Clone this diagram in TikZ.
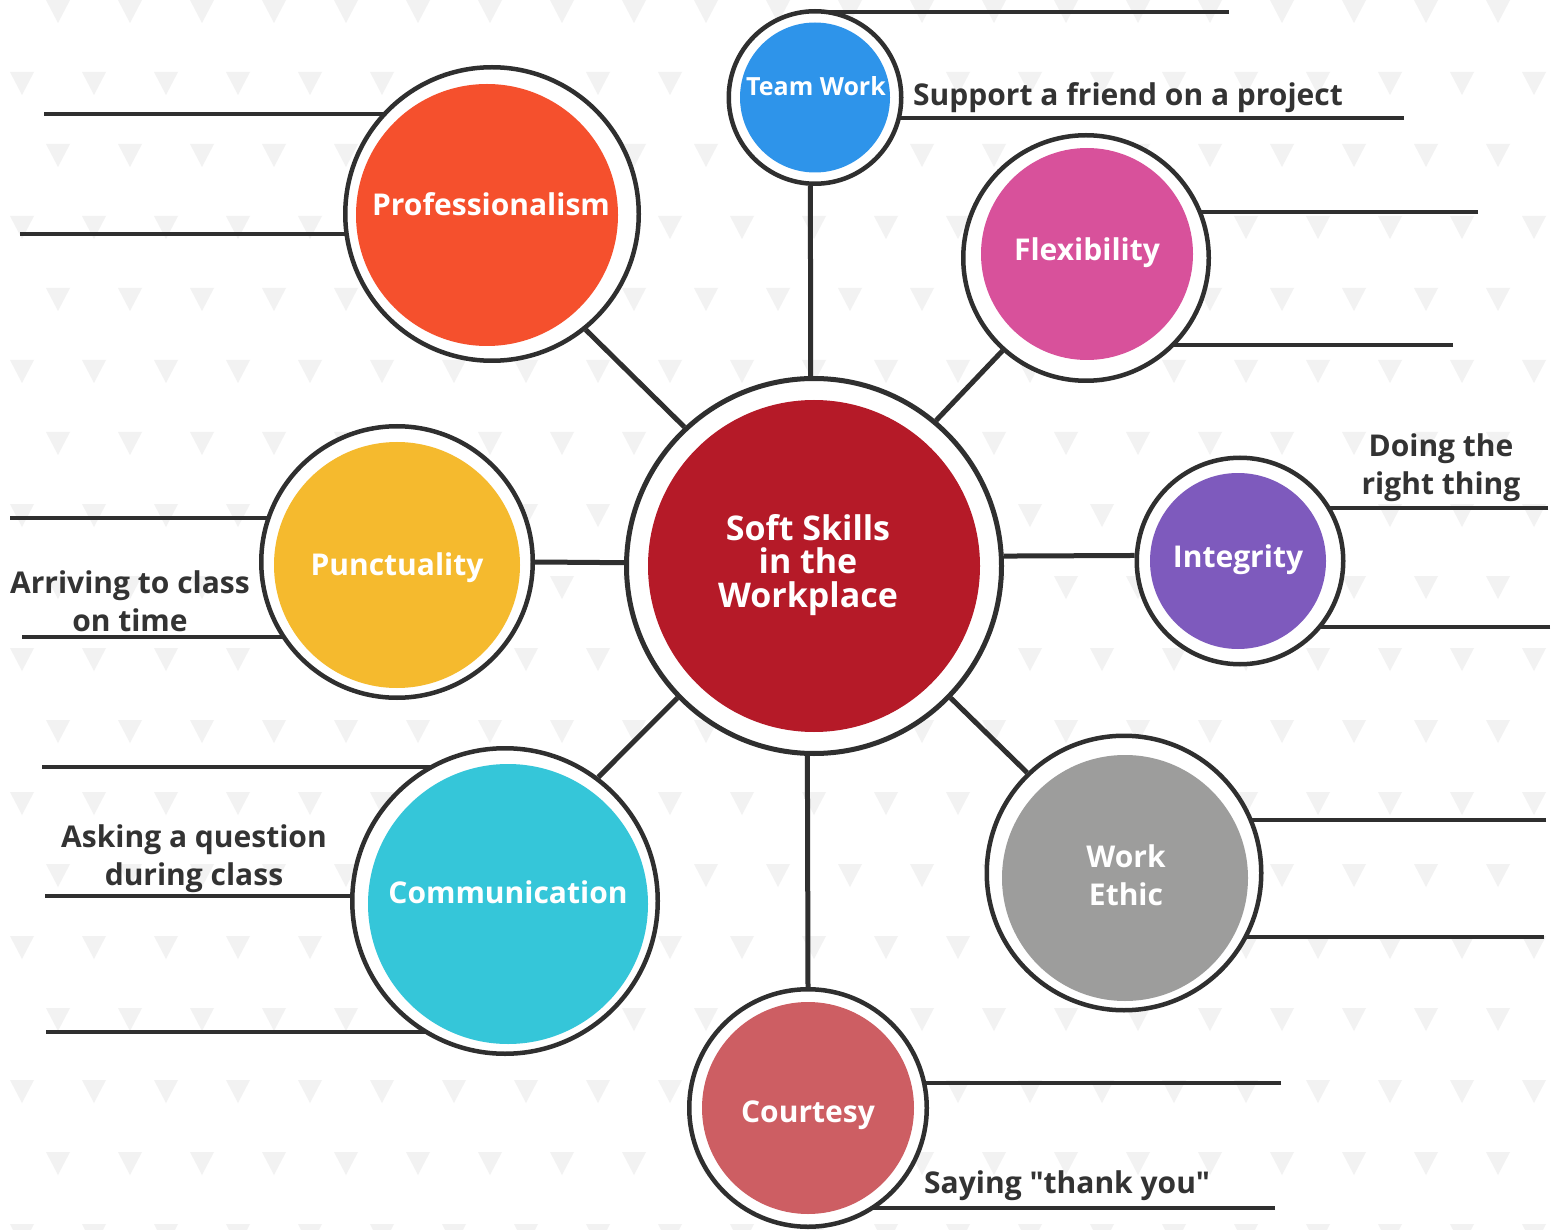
\documentclass[tikz,border=0pt]{standalone}
\usepackage{fontspec}
\setmainfont{Open Sans}
\usetikzlibrary{backgrounds}

% plain font for the straight double quote (no tex-text mapping)
\font\quotefont="Open Sans/B" at 30pt

\definecolor{ink}{HTML}{2F2F2F}
\definecolor{txtc}{HTML}{333333}
\definecolor{tri}{HTML}{F2F2F2}
\definecolor{hubred}{HTML}{B51A28}
\definecolor{twblue}{HTML}{2E94EA}
\definecolor{proforange}{HTML}{F5502D}
\definecolor{flexpink}{HTML}{D8519B}
\definecolor{integpurple}{HTML}{7E5ABD}
\definecolor{ethicgrey}{HTML}{9D9D9C}
\definecolor{courtred}{HTML}{CD5E63}
\definecolor{commcyan}{HTML}{35C6D9}
\definecolor{punctyellow}{HTML}{F5BA2E}

\pgfdeclarelayer{pattern}
\pgfsetlayers{pattern,background,main}

\tikzset{
  ring/.style={circle, draw=ink, line width=4.5pt, fill=white, inner sep=0pt, minimum size=#1pt},
  disc/.style n args={3}{path picture={\fill[#1] ([shift={#3}]path picture bounding box.center) circle (#2pt);}},
  lbl/.style={text=white, font=\bfseries\fontsize{30}{38}\selectfont, inner sep=0pt, align=center},
  note/.style={text=txtc, font=\bfseries\fontsize{30}{37.5}\selectfont, inner sep=0pt, align=center},
  leader/.style={draw=ink, line width=4pt},
  spoke/.style={draw=ink, line width=5pt},
}

\begin{document}
\begin{tikzpicture}[x=1pt, y=-1pt]
  \useasboundingbox (0,0) rectangle (1556,1230);

  % background of small triangles
  \begin{pgfonlayer}{pattern}
    \fill[white] (0,0) rectangle (1556,1230);
    \foreach \r in {0,...,17}{
      \pgfmathsetmacro\off{58-36*mod(\r,2)}
      \foreach \k in {0,...,21}{
        \fill[tri] ({\off+72*\k-12},{72*\r}) -- ++(24,0) -- ++(-12,23) -- cycle;
      }
    }
  \end{pgfonlayer}

  % the circles
  \node[ring=375, line width=5pt, disc={hubred}{166}{(0,0)}] (hub) at (814,566) {};
  \node[ring=172.5, disc={twblue}{75}{(0,0)}] (tw) at (815,97.5) {};
  \node[ring=293.5, disc={proforange}{131}{(-5,1)}] (prof) at (492,214) {};
  \node[ring=245.5, disc={flexpink}{106}{(1,-4)}] (flex) at (1086,258) {};
  \node[ring=206.5, disc={integpurple}{88}{(-2,0)}] (integ) at (1240,561) {};
  \node[ring=271.5, disc={punctyellow}{123}{(0,3)}] (punct) at (397,562) {};
  \node[ring=305.5, disc={commcyan}{140}{(3,3)}] (comm) at (505,901) {};
  \node[ring=274.5, disc={ethicgrey}{123}{(1,5)}] (ethic) at (1124,873) {};
  \node[ring=237.5, disc={courtred}{106}{(0,0)}] (court) at (808,1108) {};

  % texts in the circles (base = last line)
  \node[lbl, anchor=base, font=\bfseries\fontsize{34}{33.5}\selectfont] (hub-txt) at (808,607) {Soft Skills\\in the\\Workplace};
  \node[lbl, anchor=base, font=\bfseries\fontsize{25}{30}\selectfont] (tw-txt) at (816,96) {Team Work};
  \node[lbl, anchor=base] (prof-txt) at (491,216) {Professionalism};
  \node[lbl, anchor=base] (flex-txt) at (1087,261) {Flexibility};
  \node[lbl, anchor=base] (integ-txt) at (1238,567) {Integrity};
  \node[lbl, anchor=base] (punct-txt) at (397,575) {Punctuality};
  \node[lbl, anchor=base] (comm-txt) at (508,903) {Communication};
  \node[lbl, anchor=base] (ethic-txt) at (1126,905) {Work\\Ethic};
  \node[lbl, anchor=base] (court-txt) at (808,1122) {Courtesy};

  % free ends of the leader lines
  \coordinate (twA) at (1229,12);
  \coordinate (twB) at (1404,118);
  \coordinate (profA) at (44,114);
  \coordinate (profB) at (20,234);
  \coordinate (flexA) at (1478,212);
  \coordinate (flexB) at (1453,345);
  \coordinate (integA) at (1548,508);
  \coordinate (integB) at (1550,627);
  \coordinate (punctA) at (10,518);
  \coordinate (punctB) at (22,637);
  \coordinate (commA) at (42,767);
  \coordinate (commB) at (45,896);
  \coordinate (commC) at (46,1032);
  \coordinate (ethicA) at (1546,820);
  \coordinate (ethicB) at (1544,937);
  \coordinate (courtA) at (1281,1083);
  \coordinate (courtB) at (1275,1208);

  \begin{pgfonlayer}{background}
    \draw[leader] (twA) -- (twA -| tw);
    \draw[leader] (twB) -- (twB -| tw);
    \draw[leader] (profA) -- (profA -| prof);
    \draw[leader] (profB) -- (profB -| prof);
    \draw[leader] (flexA) -- (flexA -| flex);
    \draw[leader] (flexB) -- (flexB -| flex);
    \draw[leader] (integA) -- (integA -| integ);
    \draw[leader] (integB) -- (integB -| integ);
    \draw[leader] (punctA) -- (punctA -| punct);
    \draw[leader] (punctB) -- (punctB -| punct);
    \draw[leader] (commA) -- (commA -| comm);
    \draw[leader] (commB) -- (commB -| comm);
    \draw[leader] (commC) -- (commC -| comm);
    \draw[leader] (ethicA) -- (ethicA -| ethic);
    \draw[leader] (ethicB) -- (ethicB -| ethic);
    \draw[leader] (courtA) -- (courtA -| court);
    \draw[leader] (courtB) -- (courtB -| court);
    % spokes to the hub
    \draw[spoke] (tw.-93) -- (hub.91);
    \draw[spoke] (prof.-51) -- (hub.133);
    \draw[spoke] (flex.228) -- (hub.50);
    \draw[spoke] (integ.177) -- (hub.3);
    \draw[spoke] (ethic.134) -- (hub.-44);
    \draw[spoke] (court.90) -- (hub.-92);
    \draw[spoke] (comm.53) -- (hub.224);
    \draw[spoke] (punct.0) -- (hub.179);
  \end{pgfonlayer}

  % texts on the leader lines (base = last line)
  \node[note, anchor=base west] (tw-note) at (913,106) {Support a friend on a project};
  \node[note, anchor=base] (integ-note) at (1441,494) {Doing the\\right thing};
  \node[note, anchor=base] (punct-note) at (130,631) {Arriving to class\\on time};
  \node[note, anchor=base] (comm-note) at (194,885) {Asking a question\\during class};
  \node[note, anchor=base west] (court-note) at (924,1193) {Saying {\quotefont\char34}thank you{\quotefont\char34}};
\end{tikzpicture}
\end{document}
